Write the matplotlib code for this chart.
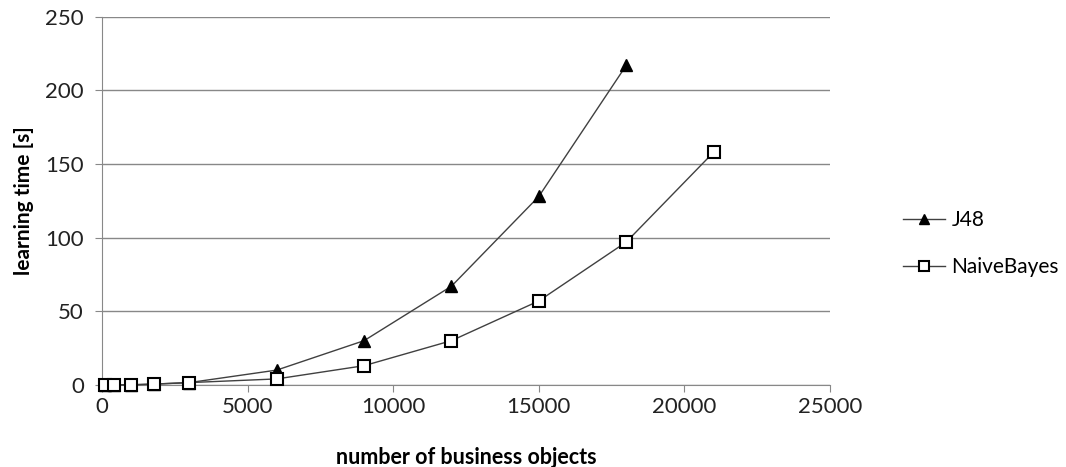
import matplotlib.pyplot as plt

plt.rcParams['font.family'] = ['Lato', 'DejaVu Sans']

# data
j48_x = [100, 400, 1000, 1800, 3000, 6000, 9000, 12000, 15000, 18000]
j48_y = [0, 0, 0, 0.5, 1.5, 10, 30, 67, 128, 217]
nb_x = [100, 400, 1000, 1800, 3000, 6000, 9000, 12000, 15000, 18000, 21000]
nb_y = [0, 0, 0, 0.5, 1.5, 4, 13, 30, 57, 97, 158]

fig = plt.figure(figsize=(10.66, 4.67), dpi=100)
ax = fig.add_axes([0.0957, 0.176, 0.683, 0.788])

ax.plot(j48_x, j48_y, color='#404040', lw=1, marker='^', ms=9,
        mfc='black', mec='black', label='J48', zorder=3, clip_on=False)
ax.plot(nb_x, nb_y, color='#404040', lw=1, marker='s', ms=9,
        mfc='white', mec='black', mew=1.5, label='NaiveBayes', zorder=3, clip_on=False)

ax.set_xlim(0, 25000)
ax.set_ylim(0, 250)
ax.set_xticks(range(0, 25001, 5000))
ax.set_yticks(range(0, 251, 50))
ax.yaxis.grid(True, color='#888888', lw=1)
ax.set_axisbelow(True)
for s in ['top', 'right']:
    ax.spines[s].set_visible(False)
for s in ['left', 'bottom']:
    ax.spines[s].set_color('#888888')
ax.tick_params(colors='#888888', labelcolor='#222222', labelsize=16, length=5)
ax.tick_params(axis='y', pad=8)
ax.set_xlabel('number of business objects', fontsize=15.5, fontweight='bold', labelpad=22)
ax.set_ylabel('learning time [s]', fontsize=15, fontweight='bold', labelpad=8)

ax.legend(loc='center left', bbox_to_anchor=(1.075, 0.383), frameon=False,
          fontsize=15, handlelength=2.0, handletextpad=0.3, labelspacing=1.3,
          markerscale=0.8)

plt.savefig('out.png')
